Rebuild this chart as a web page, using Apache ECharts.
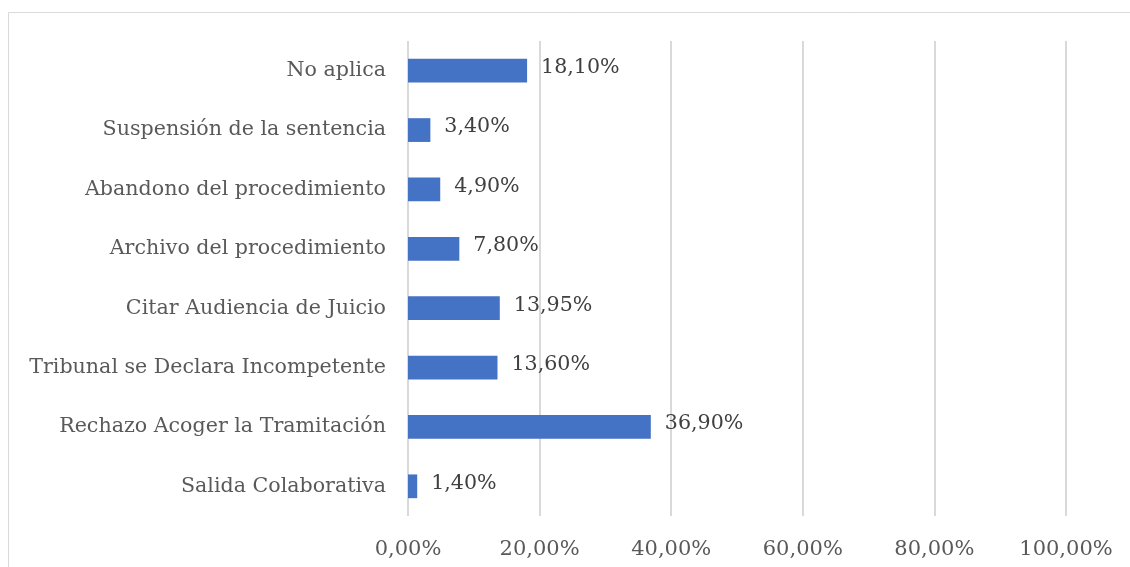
<!DOCTYPE html>
<html>
<head>
<meta charset="utf-8">
<script src="https://cdn.jsdelivr.net/npm/echarts@6/dist/echarts.min.js"></script>
<style>
  html, body { margin: 0; padding: 0; background: #fff; }
  #chart { width: 1130px; height: 567px; }
</style>
</head>
<body>
<div id="chart"></div>
<script>
  // categories listed bottom to top (category axis on y starts at bottom)
  const categories = [
    'Salida Colaborativa',
    'Rechazo Acoger la Tramitación',
    'Tribunal se Declara Incompetente',
    'Citar Audiencia de Juicio',
    'Archivo del procedimiento',
    'Abandono del procedimiento',
    'Suspensión de la sentencia',
    'No aplica'
  ];
  const values = [1.40, 36.90, 13.60, 13.95, 7.80, 4.90, 3.40, 18.10];
  const tickMin = 0;
  const tickMax = 100;
  const tickStep = 20;

  const fontFamily = '"DejaVu Serif", serif';
  const pct = v => v.toFixed(2).replace('.', ',') + '%';

  const chart = echarts.init(document.getElementById('chart'));
  chart.setOption({
    animation: false,
    graphic: [{
      type: 'rect',
      shape: { x: 8.5, y: 12.5, width: 1140, height: 600 },
      style: { fill: 'none', stroke: '#d9d9d9', lineWidth: 1 },
      silent: true
    }],
    grid: { left: 408, right: 64, top: 41, bottom: 51 },
    xAxis: {
      type: 'value',
      min: tickMin,
      max: tickMax,
      interval: tickStep,
      axisLine: { show: false },
      axisTick: { show: false },
      splitLine: { lineStyle: { color: '#d9d9d9', width: 2 } },
      axisLabel: {
        formatter: pct,
        color: '#595959',
        fontFamily: fontFamily,
        fontSize: 21,
        margin: 23
      }
    },
    yAxis: {
      type: 'category',
      data: categories,
      axisLine: { show: false },
      axisTick: { show: false },
      axisLabel: {
        color: '#595959',
        fontFamily: fontFamily,
        fontSize: 20.6,
        margin: 22
      }
    },
    series: [{
      type: 'bar',
      data: values,
      barWidth: '40%',
      itemStyle: { color: '#4472C4' },
      label: {
        show: true,
        position: 'right',
        distance: 14,
        formatter: p => pct(p.value),
        color: '#404040',
        fontFamily: fontFamily,
        fontSize: 20.6,
        offset: [0, -3]
      }
    }]
  });
</script>
</body>
</html>
